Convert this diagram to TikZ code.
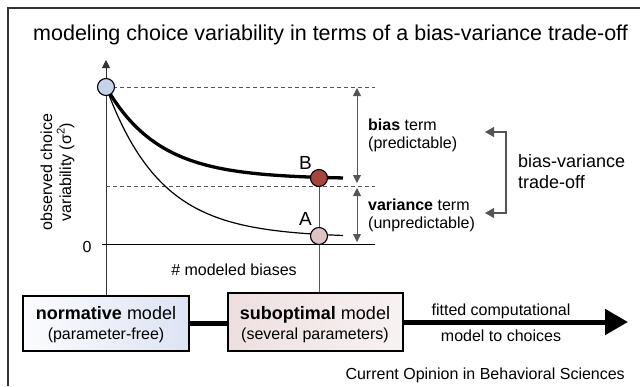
\documentclass[tikz,border=0pt]{standalone}
\usepackage{fontspec}
\setmainfont{Liberation Sans}
\usetikzlibrary{arrows.meta}
\definecolor{framec}{HTML}{333333}
\definecolor{topblue}{HTML}{C6D1EA}
\definecolor{bred}{HTML}{A6443F}
\definecolor{apink}{HTML}{DEC3C3}
\definecolor{normL}{HTML}{FBFCFE}
\definecolor{normR}{HTML}{DCE3F3}
\definecolor{subL}{HTML}{EEDFDF}
\definecolor{subR}{HTML}{F8F2F2}
\definecolor{lgray}{HTML}{555555}
\begin{document}
\begin{tikzpicture}[x=1pt,y=-1pt,
  dot/.style={circle,draw=black,line width=1.1pt,minimum size=17pt,inner sep=0pt},
  modelbox/.style={draw=black,line width=2.2pt,inner sep=0pt},
  thinline/.style={draw=lgray,line width=0.9pt},
  dashline/.style={draw=lgray,line width=0.8pt,dash pattern=on 4pt off 3pt},
  txt/.style={inner sep=0pt,font=\fontsize{16}{19}\selectfont},
  bigtxt/.style={inner sep=0pt,font=\fontsize{18}{21}\selectfont},
  every node/.append style={text=black}]
\useasboundingbox (0,0) rectangle (640,386);
\fill[white] (0,0) rectangle (640,386);
% frame
\draw[framec,line width=1.1pt] (8,386) -- (8,8) -- (640,8);
% title
\node[inner sep=0pt,anchor=base west,font=\fontsize{21.5}{25}\selectfont] (title) at (33,40)
  {modeling choice variability in terms of a bias-variance trade-off};
% boxes
\node[modelbox,minimum width=166pt,minimum height=55pt,left color=normL,right color=normR] (nb) at (106,323.5) {};
\node[modelbox,minimum width=175pt,minimum height=58pt,left color=subL,right color=subR] (sb) at (315.5,322) {};
\node[bigtxt,anchor=base] (nb1) at (106,319) {\textbf{normative} model};
\node[txt,anchor=base] (nb2) at (106,339) {(parameter-free)};
\node[bigtxt,anchor=base] (sb1) at (315,319) {\textbf{suboptimal} model};
\node[txt,anchor=base] (sb2) at (315,339) {(several parameters)};
% coordinates
\coordinate (ytip) at (106,60);
\coordinate (tipE) at (628,322);
\coordinate (z0) at (102,244);
\coordinate (z1) at (375,244);
\coordinate (d1) at (375,87);
\coordinate (d2a) at (106,186);
\coordinate (d2b) at (375,186);
% axis
\draw[draw=black!80,line width=0.9pt,-{Triangle[length=8pt,width=8pt]}] (nb.north) -- (ytip);
\draw[black,line width=1pt] (z0) -- (z1);
% dashed
\draw[dashline] (106,87) -- (d1);
\draw[dashline] (d2a) -- (d2b);
% curves
\draw[line width=1.2pt] plot[domain=106:343,samples=90] (\x,{237.5-150.5*exp(-(\x-106)/55)});
\draw[line width=3.3pt] plot[domain=106:343,samples=90] (\x,{179-92*exp(-(\x-106)/53)});
% points
\node[dot,fill=bred] (B) at (319,178) {};
\node[dot,fill=apink] (A) at (319,236) {};
\draw[thinline] (B) -- (A);
\draw[thinline] (A) -- (A |- sb.north);
\node[dot,fill=topblue] (top) at (106,87) {};
\node[inner sep=0pt,anchor=base,font=\fontsize{19}{22}\selectfont] (Bl) at (305.5,169) {B};
\node[inner sep=0pt,anchor=base,font=\fontsize{19}{22}\selectfont] (Al) at (305.5,225) {A};
\node[txt,anchor=base] (zero) at (87,252) {0};
% y label
\node[txt,anchor=base,rotate=90] (yl1) at (52,172) {observed choice};
\node[txt,anchor=base,rotate=90] (yl2) at (71,172) {variability (σ\textsuperscript{2})};
\node[txt,anchor=base] (xl) at (234,275) {\# modeled biases};
% bias / variance arrows
\coordinate (ba1) at (357,88);
\coordinate (ba2) at (357,183);
\coordinate (va1) at (357,188);
\coordinate (va2) at (357,242);
\draw[thinline,{Triangle[length=8pt,width=8pt]}-{Triangle[length=8pt,width=8pt]}] (ba1) -- (ba2);
\draw[thinline,{Triangle[length=8pt,width=8pt]}-{Triangle[length=8pt,width=8pt]}] (va1) -- (va2);
\node[txt,anchor=base west] (bt1) at (368,130) {\textbf{bias} term};
\node[txt,anchor=base west] (bt2) at (368,148) {(predictable)};
\node[txt,anchor=base west] (vt1) at (368,210) {\textbf{variance} term};
\node[txt,anchor=base west] (vt2) at (368,228) {(unpredictable)};
% bracket
\coordinate (brt) at (485,132);
\coordinate (brb) at (485,213);
\draw[thinline,line width=1.1pt,{Triangle[length=9pt,width=10pt]}-{Triangle[length=9pt,width=10pt]}] (brt) -- (506,132) -- (506,213) -- (brb);
\node[bigtxt,anchor=base west] (tr1) at (518,167) {bias-variance};
\node[bigtxt,anchor=base west] (tr2) at (518,188) {trade-off};
% main connectors
\draw[line width=5pt] (nb.east) -- (nb.east -| sb.west);
\draw[line width=5pt,-{Triangle[length=23pt,width=25pt]}] (sb.east) -- (tipE);
\node[txt,anchor=base] (f1) at (501,315) {fitted computational};
\node[txt,anchor=base] (f2) at (501,341) {model to choices};
\node[txt,anchor=base east] (src) at (625,379) {Current Opinion in Behavioral Sciences};
\end{tikzpicture}
\end{document}
